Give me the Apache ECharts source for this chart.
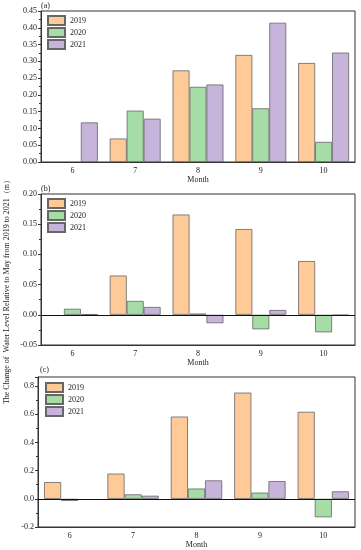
<!DOCTYPE html>
<html><head><meta charset="utf-8">
<script src="https://cdn.jsdelivr.net/npm/echarts@6/dist/echarts.min.js"></script>
<style>html,body{margin:0;padding:0;background:#fff}#c{width:361px;height:550px}</style>
</head><body><div id="c"></div>
<script>
const months = ['6','7','8','9','10'];
const years = ['2019','2020','2021'];
// panel (a)
const a2019 = [null, 0.070, 0.273, 0.319, 0.295];
const a2020 = [null, 0.153, 0.224, 0.160, 0.060];
const a2021 = [0.118, 0.129, 0.231, 0.415, 0.326];
// panel (b)
const b2019 = [null, 0.065, 0.166, 0.142, 0.089];
const b2020 = [0.010, 0.023, 0.002, -0.024, -0.029];
const b2021 = [0.001, 0.013, -0.014, 0.008, -0.001];
// panel (c)
const c2019 = [0.119, 0.179, 0.584, 0.754, 0.618];
const c2020 = [-0.015, 0.032, 0.073, 0.044, -0.131];
const c2021 = [null, 0.022, 0.131, 0.126, 0.053];
const yTitle = 'The Change of  Water Level Relative to May from 2019 to 2021（m）';

const colors = ['#FDCA98', '#A6DCA6', '#C6B4DA'];
const font = 'Liberation Serif';
const grids = [
  {left: 41, right: 6, top: 11, height: 151},
  {left: 41, right: 6, top: 194, height: 151},
  {left: 38, right: 6, top: 377, height: 151}
];
const yCfg = [
  {min: 0, max: 0.45, interval: 0.05, dec: 2},
  {min: -0.05, max: 0.20, interval: 0.05, dec: 2},
  {min: -0.2, max: 0.865, interval: 0.2, dec: 1}
];
const data = [[a2019, a2020, a2021], [b2019, b2020, b2021], [c2019, c2020, c2021]];
const legendTops = [15, 198, 382];
const legendLefts = [47, 47, 45];

const option = {
  animation: false,
  textStyle: {fontFamily: font},
  grid: grids.map(g => Object.assign({show: true, borderColor: '#333', borderWidth: 1, backgroundColor: 'transparent'}, g)),
  legend: [0,1,2].map(i => ({
    data: years, orient: 'vertical', left: legendLefts[i], top: legendTops[i],
    itemWidth: 17, itemHeight: 9, itemGap: 1, icon: 'rect',
    textStyle: {fontFamily: font, fontSize: 8, color: '#222'}, padding: 0
  })),
  xAxis: [0,1,2].map(i => ({
    type: 'category', gridIndex: i, data: months,
    name: 'Month', nameLocation: 'middle', nameGap: 14,
    nameTextStyle: {fontFamily: font, fontSize: 8, color: '#222'},
    axisLine: {onZero: false, lineStyle: {color: '#333'}},
    axisTick: {alignWithLabel: true, length: 3, lineStyle: {color: '#333'}},
    axisLabel: {fontFamily: font, fontSize: 8, color: '#222', margin: 5}
  })),
  yAxis: [0,1,2].map(i => ({
    type: 'value', gridIndex: i, min: yCfg[i].min, max: yCfg[i].max, interval: yCfg[i].interval,
    axisLine: {show: true, lineStyle: {color: '#333'}},
    axisTick: {show: true, length: 3, lineStyle: {color: '#333'}},
    minorTick: {show: true, splitNumber: 2, length: 2, lineStyle: {color: '#333'}},
    splitLine: {show: false},
    axisLabel: {fontFamily: font, fontSize: 8, color: '#222', margin: 4, showMaxLabel: i !== 2,
      formatter: v => v.toFixed(yCfg[i].dec)}
  })),
  series: []
};
[0,1,2].forEach(p => {
  years.forEach((y, k) => {
    const s = {
      type: 'bar', name: y, xAxisIndex: p, yAxisIndex: p, data: data[p][k],
      barGap: '0%', barCategoryGap: '19%',
      itemStyle: {color: colors[k], borderColor: '#666', borderWidth: 0.8}
    };
    if (p > 0 && k === 0) {
      s.markLine = {silent: true, symbol: 'none', label: {show: false},
        lineStyle: {color: '#111', width: 1, type: 'solid'}, data: [{yAxis: 0}]};
    }
    option.series.push(s);
  });
});
option.graphic = [
  {type: 'text', left: 41, top: 2, style: {text: '(a)', font: '8px "Liberation Serif"', fill: '#222'}},
  {type: 'text', left: 41, top: 185, style: {text: '(b)', font: '8px "Liberation Serif"', fill: '#222'}},
  {type: 'text', left: 40, top: 366, style: {text: '(c)', font: '8px "Liberation Serif"', fill: '#222'}},
  {type: 'text', x: 7, y: 290, rotation: Math.PI / 2,
    style: {text: yTitle, font: '8px "Liberation Serif"', fill: '#222', align: 'center', verticalAlign: 'middle'}}
];
const chart = echarts.init(document.getElementById('c'), null, {renderer: 'canvas'});
chart.setOption(option);
</script>
</body></html>
